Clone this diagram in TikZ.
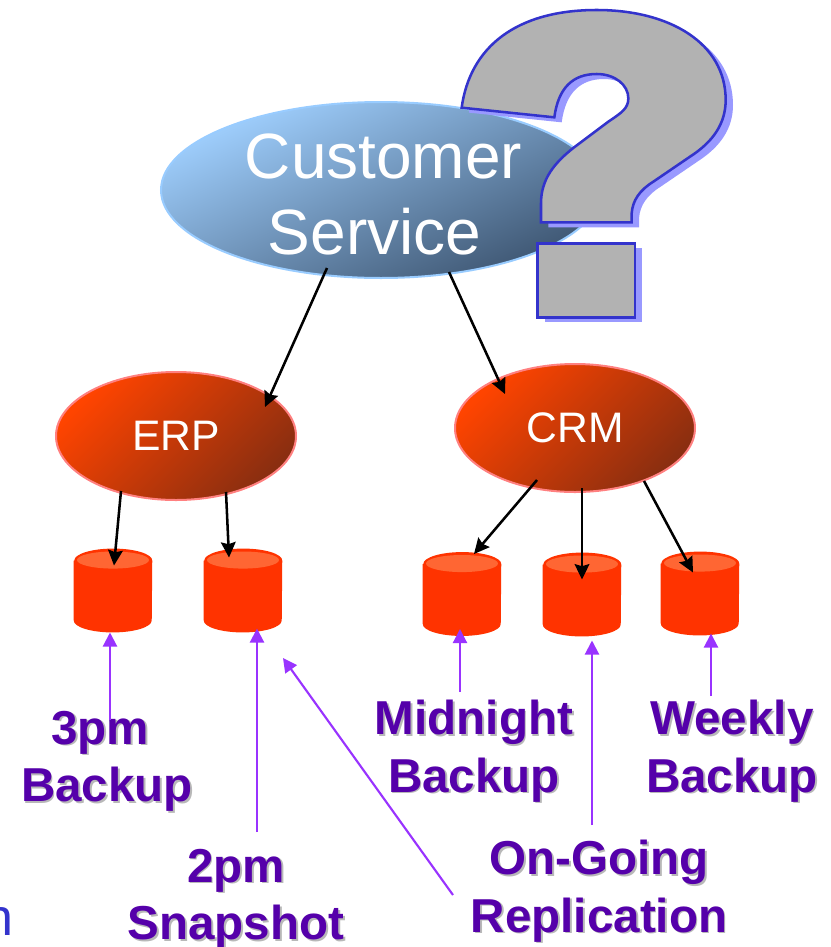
\documentclass[tikz,border=0pt]{standalone}
\usepackage{fontspec}
\setmainfont{Liberation Sans}
\usetikzlibrary{shapes.geometric,arrows.meta}
\definecolor{labelpurple}{HTML}{5500AA}
\definecolor{labelshade}{HTML}{B8B8B8}
\definecolor{feedpurple}{HTML}{9933FF}
\definecolor{markblue}{HTML}{3333CC}
\definecolor{markshade}{HTML}{9999FF}
\definecolor{markgray}{HTML}{B2B2B2}
\definecolor{skylight}{HTML}{A0D0FF}
\definecolor{skydark}{HTML}{3E5672}
\definecolor{skyrim}{HTML}{99CCFF}
\definecolor{firelight}{HTML}{FF4400}
\definecolor{firedark}{HTML}{8A2E10}
\definecolor{firerim}{HTML}{FF8080}
\definecolor{drumbody}{HTML}{FF3300}
\definecolor{drumtop}{HTML}{FF6633}
\newcommand{\shadowed}[1]{\leavevmode\rlap{\raisebox{-1.3pt}{\kern1.3pt\textcolor{labelshade}{#1}}}#1}
\newcommand{\markhook}{(65,323) -- (343,352) .. controls (355,262) and (400,222) .. (470,222)
    .. controls (525,222) and (565,255) .. (565,295) .. controls (565,325) and (545,338) .. (505,365)
    -- (405,440) .. controls (340,490) and (303,540) .. (303,610) -- (303,667) -- (575,667) -- (575,640)
    .. controls (578,600) and (600,570) .. (640,545) -- (750,470) .. controls (820,425) and (857,370) .. (857,300)
    .. controls (857,130) and (690,30) .. (470,30) .. controls (230,30) and (90,140) .. (65,323) -- cycle}
\begin{document}
\begin{tikzpicture}[
    x=0.75pt,y=-0.75pt,
    service/.style={ellipse, draw=skyrim, line width=1.5pt, shade, inner xsep=0pt, inner ysep=-8pt, text=white,
        align=center, top color=skylight, bottom color=skydark,
        shading angle=25, minimum width=330pt, minimum height=132pt,
        font=\fontsize{48}{57}\selectfont},
    system/.style={ellipse, draw=firerim, line width=1.5pt, shade, inner sep=0pt, text=white,
        top color=firelight, bottom color=firedark, shading angle=45,
        minimum width=180pt, minimum height=96pt, font=\fontsize{32}{36}\selectfont},
    store/.style={rectangle, inner sep=0pt, minimum width=58.5pt, minimum height=62.5pt},
    drum/.style={fill=drumbody},
    drumlid/.style={fill=drumtop},
    tag/.style={text=labelpurple, align=center, inner sep=0pt, font=\fontsize{35.7}{43}\selectfont\bfseries},
    link/.style={draw=black, line width=1.9pt, -{Stealth[length=11.5pt,width=11pt,inset=1.5pt]}},
    feed/.style={draw=feedpurple, line width=1.6pt, -{Triangle[length=10.5pt,width=10.5pt]}},
    qmark/.style={draw=markblue, line width=1.9pt, fill=markgray},
    qback/.style={fill=markshade}
]
\useasboundingbox (0,0) rectangle (831,947);
\clip (0,0) rectangle (831,947);

% top of the tree
\node[service] (customer) at (381,190) {\rule{0pt}{39.5pt}\hspace*{3.8pt}Customer\\Service\hspace*{9.8pt}};
\node[system] (erp) at (176,436) {ERP};
\node[system] (crm) at (575,428) {CRM};

% stores
\foreach \db/\x/\y in {snapthree/113/590.5,snaptwo/243/590.5,midnight/462/594,ongoing/582/594.5,weekly/700/593.5} {
    \node[store] (\db) at (\x,\y) {};
    \fill[drum] ([yshift=-9pt]\db.north west) -- ([yshift=9pt]\db.south west)
        arc[start angle=180,end angle=360,x radius=29.25pt,y radius=9pt]
        -- ([yshift=-9pt]\db.north east)
        arc[start angle=0,end angle=180,x radius=29.25pt,y radius=9pt] -- cycle;
    \fill[drumlid] ([yshift=-8.6pt]\db.north) ellipse[x radius=27pt,y radius=6.4pt];
}

% labels
\node[tag] (lblthree) at (107,762) {\shadowed{3pm\hspace*{.28em}}\\\shadowed{Backup}};
\node[tag] (lbltwo) at (236,900) {\shadowed{2pm}\\\shadowed{Snapshot}};
\node[tag] (lblmidnight) at (474,752) {\shadowed{Midnight}\\\shadowed{Backup}};
\node[tag] (lblweekly) at (732,752) {\shadowed{Weekly}\\\shadowed{Backup}};
\node[tag] (lblongoing) at (599,892) {\shadowed{On-Going}\\\shadowed{Replication}};
\node[text=markblue, anchor=base east, inner sep=0pt, font=\fontsize{39}{44}\selectfont] (cutoff) at (14,935) {n};
\coordinate (gap) at (283,658);

% black links
\draw[link] ([shift={(-54,78)}]customer.center) -- ([shift={(89,-29)}]erp.center);
\draw[link] ([shift={(68,82)}]customer.center) -- ([shift={(-70,-34)}]crm.center);
\draw[link] ([shift={(-55,55)}]erp.center) -- ([shift={(1,-25)}]snapthree.center);
\draw[link] ([shift={(50,56)}]erp.center) -- ([shift={(-14,-33)}]snaptwo.center);
\draw[link] ([shift={(-38,52)}]crm.center) -- ([shift={(12,-40)}]midnight.center);
\draw[link] ([shift={(7,60)}]crm.center) -- ([shift={(0,-15)}]ongoing.center);
\draw[link] ([shift={(69,53)}]crm.center) -- ([shift={(-7,-21)}]weekly.center);

% purple feeds
\draw[feed] ([shift={(3,-42)}]lblthree.center) -- ([shift={(-3,42)}]snapthree.center);
\draw[feed] ([shift={(21,-68)}]lbltwo.center) -- ([shift={(14,38)}]snaptwo.center);
\draw[feed] ([shift={(-146,3)}]lblongoing.center) -- (gap);
\draw[feed] ([shift={(-14,-60)}]lblmidnight.center) -- ([shift={(-2,35)}]midnight.center);
\draw[feed] ([shift={(-7,-67)}]lblongoing.center) -- ([shift={(10,46)}]ongoing.center);
\draw[feed] ([shift={(-21,-56)}]lblweekly.center) -- ([shift={(11,40)}]weekly.center);

% question mark
\begin{scope}[shift={(440,0)},x=0.25pt,y=-0.25pt]
    \path[qback,shift={(22,15)}] \markhook;
    \path[qback] (314,745) rectangle (607,967);
    \path[qmark] \markhook;
    \path[qmark] (292,730) rectangle (585,952);
\end{scope}
\end{tikzpicture}
\end{document}
